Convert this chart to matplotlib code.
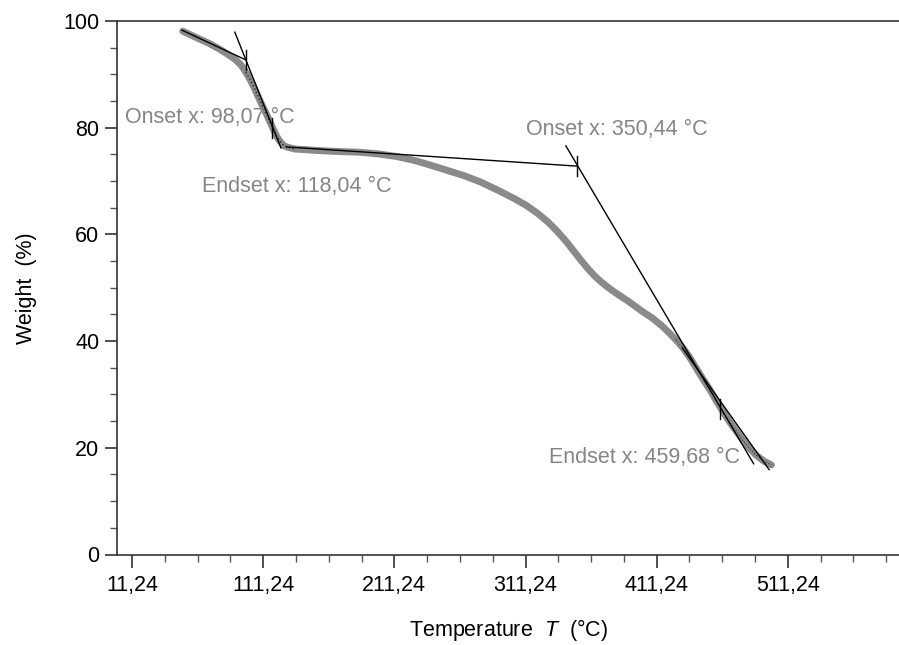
import matplotlib
matplotlib.use("Agg")
import matplotlib.pyplot as plt
from matplotlib.ticker import MultipleLocator, FixedLocator

plt.rcParams['font.family'] = ['Liberation Sans', 'DejaVu Sans']
plt.rcParams['mathtext.fontset'] = 'custom'
plt.rcParams['mathtext.it'] = 'Liberation Sans:italic'
plt.rcParams['mathtext.rm'] = 'Liberation Sans'

# TGA curve
temp = [49.9, 55.0, 62.9, 70.0, 78.2, 84.0, 90.4, 94.5, 98.0, 101.5, 104.9,
        108.0, 111.0, 113.8, 116.4, 119.0, 121.7, 124.5, 127.1, 130.5, 135.4,
        148.0, 162.2, 173.0, 185.1, 200.3, 213.0, 226.0, 238.5, 251.5, 264.5,
        277.2, 290.0, 302.8, 312.0, 320.7, 328.5, 336.1, 342.5, 348.9, 354.0,
        359.1, 364.0, 369.4, 374.5, 379.6, 390.0, 400.1, 408.0, 415.5, 420.5,
        425.7, 431.0, 436.0, 441.0, 446.2, 451.5, 456.5, 461.5, 466.7, 472.0,
        477.0, 482.0, 487.2, 493.0, 498.7]
weight = [98.1, 97.5, 96.6, 95.8, 94.7, 93.8, 92.7, 91.7, 90.4, 88.9, 87.2,
          85.5, 83.9, 82.5, 81.1, 79.7, 78.3, 77.3, 76.6, 76.3, 76.0,
          75.8, 75.6, 75.5, 75.4, 75.05, 74.6, 73.9, 73.0, 72.0, 71.0,
          69.8, 68.3, 66.7, 65.4, 63.9, 62.3, 60.4, 58.6, 56.6, 55.0,
          53.5, 52.2, 51.0, 50.0, 49.1, 47.4, 45.6, 44.3, 42.8, 41.6,
          40.3, 38.8, 37.1, 35.1, 33.0, 31.0, 28.9, 26.9, 24.9, 23.1,
          21.4, 19.9, 18.6, 17.5, 16.8]

# tangent lines (start T, start W, end T, end W)
tangents = [
    (49.2, 98.3, 98.07, 92.7),     # onset 1 baseline
    (89.6, 97.9, 124.8, 76.2),     # step 1 inflection tangent
    (129.1, 76.4, 350.44, 72.8),   # onset 2 baseline
    (342.0, 76.6, 485.2, 17.0),    # step 2 inflection tangent
    (430.8, 38.7, 497.0, 15.9),    # endset 2 tangent
]

# characteristic points
pt_names = ["Onset x: 98,07 °C", "Endset x: 118,04 °C",
            "Onset x: 350,44 °C", "Endset x: 459,68 °C"]
pt_temp = [98.07, 118.04, 350.44, 459.68]
pt_weight = [92.7, 79.9, 72.8, 27.3]
label_pos = [(5.5, 82.0), (64.5, 69.0), (311.5, 79.6), (329.5, 18.2)]

xticks = [11.24, 111.24, 211.24, 311.24, 411.24, 511.24]
xtick_labels = ["11,24", "111,24", "211,24", "311,24", "411,24", "511,24"]

fig = plt.figure(figsize=(8.99, 6.45), dpi=100)
ax = fig.add_axes([117.3 / 899, (645 - 554.5) / 645, 1 - 117.3 / 899, (554.5 - 21) / 645])

ax.plot(temp, weight, color='#8a8a8a', lw=5, solid_capstyle='round',
        solid_joinstyle='round', zorder=2)
# dark overlays on the fitted regions
sel1 = [i for i, t in enumerate(temp) if 98 <= t <= 136]
ax.plot([temp[i] for i in sel1], [weight[i] for i in sel1], color='#222222', lw=1.0, ls=':', zorder=3)
sel2 = [i for i, t in enumerate(temp) if 425 <= t]
ax.plot([temp[i] for i in sel2], [weight[i] for i in sel2], color='#333333', lw=0.8, ls=':', zorder=3)

for t0, w0, t1, w1 in tangents:
    ax.plot([t0, t1], [w0, w1], color='black', lw=1.0, zorder=4)

for t, w in zip(pt_temp, pt_weight):
    ax.plot([t, t], [w - 1.9, w + 1.9], color='black', lw=1.0, zorder=5)

for name, (lx, ly) in zip(pt_names, label_pos):
    ax.text(lx, ly, name, color='#858585', fontsize=15.5, va='center', ha='left', zorder=6)

ax.set_xlim(0, 596)
ax.set_ylim(0, 100)
ax.xaxis.set_major_locator(FixedLocator(xticks))
ax.set_xticklabels(xtick_labels)
ax.xaxis.set_minor_locator(FixedLocator([11.24 + 25 * k for k in range(0, 24) if k % 4 != 0]))
ax.yaxis.set_major_locator(MultipleLocator(20))
ax.yaxis.set_minor_locator(MultipleLocator(5))

for s in ['top', 'left', 'bottom']:
    ax.spines[s].set_color('#333333')
    ax.spines[s].set_linewidth(1.2)
ax.spines['right'].set_visible(False)

ax.tick_params(which='major', direction='out', length=9, width=1.2, color='#333333',
               labelsize=15.5, pad=6)
ax.tick_params(which='minor', direction='out', length=5, width=1.0, color='#555555')
ax.tick_params(axis='y', pad=4)

ax.set_xlabel("Temperature  $T$  (°C)", fontsize=15.5, labelpad=15)
ax.set_ylabel("Weight  (%)", fontsize=15.5, labelpad=19)

fig.savefig("out.png", dpi=100)
